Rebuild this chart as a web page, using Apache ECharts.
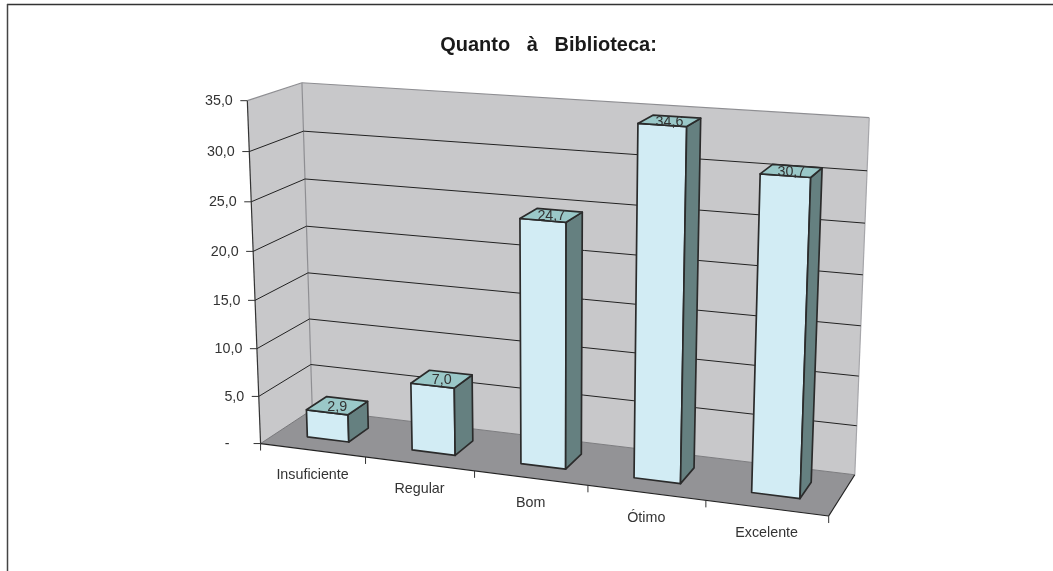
<!DOCTYPE html>
<html><head><meta charset="utf-8">
<style>html,body{margin:0;padding:0;background:#fff}#c{width:1053px;height:571px}</style>
<script src="https://cdn.jsdelivr.net/npm/echarts@6/dist/echarts.min.js"></script>
</head><body><div id="c"></div>
<script>
const categories = ['Insuficiente','Regular','Bom','Ótimo','Excelente'];
const values = [2.9, 7.0, 24.7, 34.6, 30.7];
const valueLabels = ['2,9','7,0','24,7','34,6','30,7'];
const yTicks = [0,5,10,15,20,25,30,35];
const yTickLabels = ['-','5,0','10,0','15,0','20,0','25,0','30,0','35,0'];
const titleText = 'Quanto   à   Biblioteca:';

// Camera calibration: (across, up, depth) of the chart box -> where it appears on the page
const camera = [
 [0,0,0,260.7,443.3],[0,1,0,247.3,100.7],[0,1,1,301.7,82.7],[0,0,1,312,410],
 [1,1,1,869.3,117.7],[1,0,1,855,474.3],[1,0,0,828.7,516.3],
 [0.2,0,0,365.3,456.8],[0.8,0,0,705.7,500.5],
 [0,30/35,1,303.7,131.3],[0,5/35,1,311,364.3],[0,5/35,0,259,396.7],[0,30/35,0,249.3,151.3],
 [1,30/35,1,867,171],[1,5/35,1,856.7,425.7]
];
function solveCamera(pts){
  const n=11, A=Array.from({length:n},()=>new Array(n+1).fill(0));
  function add(r,b){for(let i=0;i<n;i++){for(let j=0;j<n;j++)A[i][j]+=r[i]*r[j];A[i][n]+=r[i]*b;}}
  pts.forEach(([X,Y,Z,x,y])=>{x/=1000;y/=1000;
    add([X,Y,Z,1,0,0,0,0,-x*X,-x*Y,-x*Z],x);
    add([0,0,0,0,X,Y,Z,1,-y*X,-y*Y,-y*Z],y);});
  for(let i=0;i<n;i++){let m=i;for(let k=i+1;k<n;k++)if(Math.abs(A[k][i])>Math.abs(A[m][i]))m=k;
    [A[i],A[m]]=[A[m],A[i]];
    for(let k=0;k<n;k++){if(k===i)continue;const f=A[k][i]/A[i][i];for(let j=i;j<=n;j++)A[k][j]-=f*A[i][j];}}
  return A.map((r,i)=>r[n]/r[i]);
}
const P=solveCamera(camera);
function project(u,v,w){
  const d=P[8]*u+P[9]*v+P[10]*w+1;
  return [1000*(P[0]*u+P[1]*v+P[2]*w+P[3])/d, 1000*(P[4]*u+P[5]*v+P[6]*w+P[7])/d];
}
// Hidden layout grid that carries the library scales
const G={left:100,top:100,width:500,height:350};
function pageAt(api,xPix,val,w){
  const c=api.coord([0,val]);
  return project((xPix-G.left)/G.width,(G.top+G.height-c[1])/G.height,w);
}
const C={wall:'#c8c8ca',floor:'#939396',front:'#d2ecf4',top:'#9ac8c8',side:'#658080',edge:'#2b2b2b',soft:'#8e8e92',grid:'#222',text:'#333'};
const font='14.3px "Liberation Sans", Arial, sans-serif';
const poly=(pts,fill,stroke,lw)=>({type:'polygon',shape:{points:pts},style:{fill:fill,stroke:stroke||null,lineWidth:lw||0,lineJoin:'round'}});
const line=(a,b,stroke,lw)=>({type:'line',shape:{x1:a[0],y1:a[1],x2:b[0],y2:b[1]},style:{stroke:stroke,lineWidth:lw||1,fill:null}});
const label=(x,y,t,align)=>({type:'text',x:x,y:y,style:{text:t,fill:C.text,font:font,align:align,verticalAlign:'middle'}});

function renderBox(params,api){
  const X0=G.left,X1=G.left+G.width,Y1=35;
  const p=(x,v,w)=>pageAt(api,x,v,w);
  const fl0=p(X0,0,0),fr0=p(X1,0,0),bl0=p(X0,0,1),br0=p(X1,0,1);
  const fl1=p(X0,Y1,0),bl1=p(X0,Y1,1),br1=p(X1,Y1,1);
  return {type:'group',children:[
    poly([fl0,fl1,bl1,bl0],C.wall),
    poly([bl0,bl1,br1,br0],C.wall),
    poly([fl0,fr0,br0,bl0],C.floor),
    line(bl0,br0,'#7d7d80',1),
    line(bl1,bl0,C.soft,1.2),
    line(fl1,bl1,C.soft,1.2),
    line(bl1,br1,C.soft,1.2),
    line(br1,br0,'#a6a6aa',1.2),
    line(fl0,bl0,'#77777a',1),
    line(fl1,fl0,'#333',1.2),
    line(fl0,fr0,'#222',1.2),
    line(fr0,br0,'#222',1.2)
  ]};
}
function renderY(params,api){
  const v=api.value(0), i=params.dataIndex;
  const X0=G.left,X1=G.left+G.width;
  const p=(x,w)=>pageAt(api,x,v,w);
  const a=p(X0,0),b=p(X0,1),c=p(X1,1);
  const kids=[line([a[0]-7,a[1]],a,'#333',1)];
  if(v>0&&v<35){kids.push(line(a,b,C.grid,1),line(b,c,C.grid,1));}
  const t=yTickLabels[i];
  kids.push(label(a[0]-(t==='-'?31:14.5),a[1]+0.5,t,'right'));
  return {type:'group',children:kids};
}
function renderX(params,api){
  const i=params.dataIndex, band=api.size([1,0])[0];
  const cx=api.coord([i,0])[0];
  const a=pageAt(api,cx-band/2,0,0), m=pageAt(api,cx,0,0);
  const kids=[line(a,[a[0],a[1]+7],'#333',1),label(m[0],m[1]+25,categories[i],'center')];
  if(i===categories.length-1){const e=pageAt(api,cx+band/2,0,0);kids.push(line(e,[e[0],e[1]+7],'#333',1));}
  return {type:'group',children:kids};
}
function renderBar(params,api){
  const i=params.dataIndex,val=api.value(1),band=api.size([1,0])[0];
  const cx=api.coord([i,0])[0],hw=band*0.2,d0=0.3,d1=0.7;
  const L=cx-hw,R=cx+hw,p=(x,v,w)=>pageAt(api,x,v,w);
  const a=p(L,0,d0),b=p(R,0,d0),c=p(R,0,d1);
  const e=p(L,val,d0),f=p(R,val,d0),g=p(R,val,d1),h=p(L,val,d1);
  const mid=p(cx,val,0.5), lw=1.7;
  return {type:'group',children:[
    poly([a,b,f,e],C.front,C.edge,lw),
    poly([b,c,g,f],C.side,C.edge,lw),
    poly([e,f,g,h],C.top,C.edge,lw),
    label(mid[0],mid[1]+1,valueLabels[i],'center')
  ]};
}
const chart=echarts.init(document.getElementById('c'));
const custom=(name,data,fn,z)=>({type:'custom',name:name,coordinateSystem:'cartesian2d',data:data,renderItem:fn,clip:false,silent:true,z:z,animation:false,encode:{x:0,y:1}});
chart.setOption({
  animation:false,
  backgroundColor:'#fff',
  title:{text:titleText,left:543.5,top:30,textAlign:'center',textStyle:{fontFamily:'"Liberation Sans", Arial, sans-serif',fontSize:20,fontWeight:'bold',color:'#1a1a1a'}},
  grid:Object.assign({},G),
  xAxis:{type:'category',data:categories,show:false},
  yAxis:{type:'value',min:0,max:35,interval:5,show:false},
  graphic:[
    {type:'line',shape:{x1:7,y1:4.5,x2:1053,y2:4.5},style:{stroke:'#333',lineWidth:1.5},silent:true},
    {type:'line',shape:{x1:7.5,y1:4,x2:7.5,y2:571},style:{stroke:'#444',lineWidth:1.5},silent:true}
  ],
  series:[
    custom('box',[[0,0]],renderBox,1),
    custom('yTicks',yTicks.map(v=>[v]),renderY,2),
    custom('xTicks',categories.map((c,i)=>[i,0]),renderX,2),
    custom('values',values.map((v,i)=>[i,v]),renderBar,3)
  ]
});
</script></body></html>
